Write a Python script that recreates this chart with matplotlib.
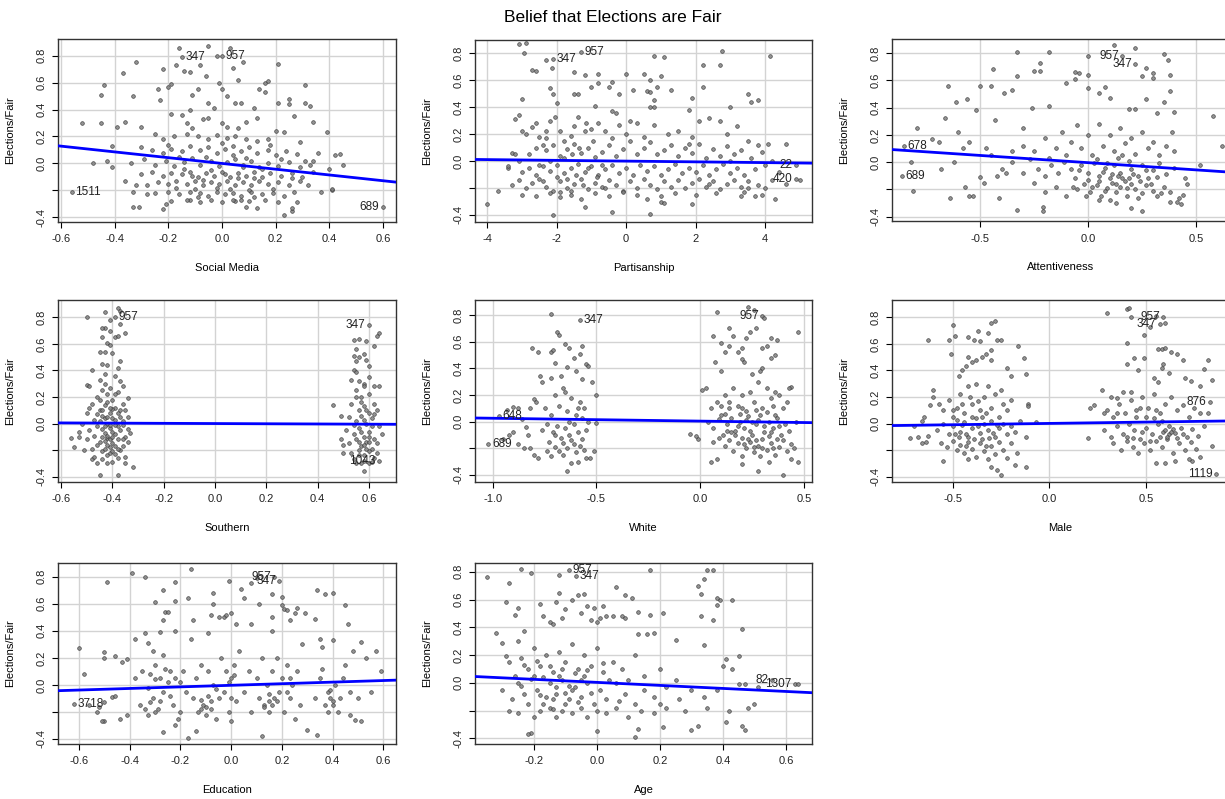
import numpy as np
import matplotlib.pyplot as plt

plt.rcParams['font.family'] = ['Liberation Sans', 'DejaVu Sans']

# added-variable points (x residual, y residual)
social_media = [
    (-0.52, 0.30), (-0.45, 0.51), (-0.44, 0.58), (-0.45, 0.30), (-0.37, 0.67), (-0.32, 0.75), (-0.33, 0.50),
    (-0.48, 0.00), (-0.43, 0.02), (-0.41, 0.13), (-0.41, -0.03), (-0.39, 0.27), (-0.36, 0.31), (-0.36, -0.13),
    (-0.33, -0.21), (-0.33, -0.32), (-0.31, -0.32), (-0.32, -0.16), (-0.30, 0.27), (-0.28, -0.23), (-0.22, -0.34),
    (-0.21, -0.30), (-0.22, 0.70), (-0.16, 0.86), (-0.17, 0.73), (-0.15, 0.79), (-0.14, 0.69), (-0.12, 0.68),
    (-0.05, 0.87), (-0.02, 0.80), (0.00, 0.80), (0.03, 0.86), (0.04, 0.71), (0.06, 0.62), (0.08, 0.75),
    (-0.08, 0.73), (-0.06, 0.65), (-0.19, 0.59), (-0.20, 0.57), (-0.24, 0.55), (-0.23, 0.47), (-0.01, 0.60),
    (0.00, 0.55), (0.02, 0.50), (0.05, 0.45), (0.07, 0.45), (-0.11, 0.51), (-0.12, 0.40), (-0.09, 0.55),
    (-0.05, 0.45), (-0.03, 0.41), (0.14, 0.55), (0.16, 0.53), (0.16, 0.60), (0.17, 0.61), (0.21, 0.74),
    (0.21, 0.45), (0.25, 0.44), (0.25, 0.48), (0.31, 0.58), (0.31, 0.45), (0.33, 0.43), (0.34, 0.31),
    (0.27, 0.35), (0.12, 0.41), (0.23, 0.23), (0.20, 0.24), (0.29, 0.16), (0.39, 0.23), (0.40, -0.04),
    (0.44, 0.07), (0.45, -0.01), (0.42, 0.06), (0.41, -0.20), (0.41, -0.19), (0.37, -0.21), (0.33, -0.01),
    (0.36, 0.08), (0.34, 0.02), (0.60, -0.32), (-0.56, -0.21), (0.23, -0.38), (0.26, -0.35), (0.26, -0.33),
    (0.28, -0.29), (0.13, -0.33), (0.09, -0.32), (0.05, -0.28),
    (-0.07, 0.33), (-0.05, 0.34), (0.00, 0.30), (-0.13, 0.30), (0.09, 0.31), (0.13, 0.34), (-0.19, 0.37),
    (-0.15, 0.36), (-0.25, 0.22), (-0.22, 0.18), (-0.18, 0.20), (-0.13, 0.22), (-0.09, 0.20), (-0.05, 0.18),
    (-0.02, 0.21), (0.02, 0.19), (0.05, 0.20), (0.09, 0.18), (0.13, 0.17), (0.17, 0.18), (0.06, 0.26),
    (-0.11, 0.26), (0.02, 0.27), (-0.30, 0.12), (-0.26, 0.10), (-0.22, 0.08), (-0.19, 0.11), (-0.15, 0.09),
    (-0.12, 0.13), (-0.08, 0.10), (-0.05, 0.12), (-0.02, 0.08), (0.01, 0.11), (0.04, 0.13), (0.07, 0.09),
    (0.10, 0.12), (0.13, 0.08), (0.17, 0.10), (0.20, 0.06), (0.24, 0.09), (0.28, 0.07), (-0.34, 0.00),
    (-0.29, 0.03), (-0.25, -0.01), (-0.21, 0.02), (-0.18, -0.02), (-0.14, 0.01), (-0.11, 0.04), (-0.08, -0.01),
    (-0.04, 0.02), (-0.01, -0.02), (0.02, 0.01), (0.05, 0.03), (0.08, -0.01), (0.11, 0.02), (0.14, -0.03),
    (0.17, 0.00), (0.21, -0.02), (0.25, 0.01), (0.29, -0.03), (0.31, 0.02), (-0.30, -0.08), (-0.26, -0.06),
    (-0.22, -0.09), (-0.19, -0.07), (-0.15, -0.08), (-0.12, -0.06), (-0.09, -0.10), (-0.06, -0.07), (-0.03, -0.09),
    (0.00, -0.06), (0.03, -0.10), (0.06, -0.07), (0.09, -0.09), (0.12, -0.06), (0.15, -0.10), (0.18, -0.07),
    (0.22, -0.09), (0.26, -0.07), (0.30, -0.10), (0.34, -0.06), (-0.28, -0.16), (-0.24, -0.14), (-0.20, -0.15),
    (-0.17, -0.13), (-0.13, -0.15), (-0.10, -0.13), (-0.07, -0.16), (-0.04, -0.14), (-0.01, -0.15), (0.02, -0.13),
    (0.05, -0.16), (0.08, -0.14), (0.11, -0.16), (0.14, -0.13), (0.17, -0.15), (0.21, -0.14), (0.25, -0.16),
    (0.29, -0.13), (0.32, -0.16), (-0.25, -0.22), (-0.20, -0.21), (-0.16, -0.23), (-0.12, -0.21), (-0.08, -0.22),
    (-0.05, -0.24), (-0.02, -0.21), (0.01, -0.23), (0.04, -0.22), (0.07, -0.24), (0.11, -0.21), (0.15, -0.23),
    (0.19, -0.22), (0.23, -0.24), (0.27, -0.21), (-0.19, -0.28), (-0.12, -0.27), (-0.08, -0.29), (-0.04, -0.27),
    (0.00, -0.29), (0.04, -0.27), (0.10, -0.28), (0.16, -0.27), (0.21, -0.29),
    (-0.14, -0.04), (-0.10, -0.19), (-0.07, -0.12), (-0.04, -0.05), (-0.02, -0.18), (0.01, -0.08), (0.03, -0.19),
    (0.06, -0.11), (0.08, -0.03), (0.10, -0.20), (0.12, -0.11), (0.15, -0.04), (-0.11, -0.09), (-0.06, 0.05),
    (0.04, 0.06), (0.09, 0.04), (-0.17, -0.18), (0.19, -0.19), (-0.09, -0.25), (0.07, -0.27), (-0.20, 0.14),
    (0.00, 0.15), (0.18, 0.14), (-0.13, -0.27), (0.12, -0.25), (-0.16, 0.05), (0.22, 0.03), (0.26, -0.11),
]

partisanship = [
    (-3.1, 0.87), (-2.9, 0.88), (-2.95, 0.80), (-2.7, 0.68), (-2.6, 0.67), (-2.3, 0.75), (-2.1, 0.76), (-2.15, 0.69),
    (-1.3, 0.81), (-2.2, 0.54), (-2.1, 0.50), (-2.0, 0.43), (-3.0, 0.46), (-1.5, 0.50), (-1.4, 0.50), (-1.5, 0.66),
    (-1.2, 0.64), (-0.8, 0.65), (-1.0, 0.55), (-0.8, 0.58), (-0.5, 0.55), (-0.4, 0.59), (-0.2, 0.50), (0.0, 0.65),
    (0.2, 0.53), (0.5, 0.65), (0.6, 0.52), (0.7, 0.51), (0.7, 0.60), (0.8, 0.78), (1.1, 0.77), (0.9, 0.55),
    (1.0, 0.63), (0.8, 0.45), (0.8, 0.40), (0.7, 0.40), (1.3, 0.53), (2.2, 0.71), (2.2, 0.55), (2.7, 0.71),
    (2.75, 0.82), (1.9, 0.47), (1.8, 0.38), (3.0, 0.40), (3.5, 0.50), (3.6, 0.44), (3.8, 0.45), (4.15, 0.78),
    (-0.9, 0.41), (-0.4, 0.37), (-0.3, 0.36), (-3.2, 0.31), (-3.1, 0.34), (4.6, 0.13), (4.9, -0.03), (4.9, -0.13),
    (5.0, -0.14), (4.3, -0.28), (4.0, -0.20), (-4.0, -0.32), (-3.7, -0.22), (-3.4, -0.05), (-2.1, -0.40),
    (-0.4, -0.38), (0.7, -0.39), (-1.2, -0.34), (1.0, -0.30), (1.1, -0.31), (1.9, -0.32), (3.3, -0.26), (3.7, -0.26),
    (-3.3, 0.06), (-3.2, 0.05), (-3.0, 0.22), (-2.9, 0.20), (-2.7, 0.25), (-2.6, 0.28), (-2.5, 0.18), (-2.4, 0.12),
    (-2.3, 0.17), (-2.2, 0.30), (-2.05, 0.33), (-1.9, 0.22), (-1.8, 0.15), (-1.6, 0.19), (-1.5, 0.26), (-1.4, 0.33),
    (-1.2, 0.22), (-1.0, 0.24), (-0.8, 0.28), (-0.6, 0.22), (-0.4, 0.17), (-0.2, 0.27), (0.1, 0.30), (0.3, 0.28),
    (0.5, 0.18), (0.8, 0.27), (1.2, 0.20), (1.5, 0.22), (1.9, 0.18), (2.1, 0.30), (2.4, 0.32), (2.7, 0.30),
    (2.9, 0.20), (3.2, 0.26), (3.5, 0.15), (3.8, 0.12), (4.1, 0.13),
    (-3.4, -0.04), (-3.1, 0.00), (-2.8, 0.05), (-2.6, 0.10), (-2.3, 0.08), (-2.1, 0.12), (-1.9, 0.04), (-1.7, 0.09),
    (-1.5, 0.13), (-1.3, 0.06), (-1.1, 0.10), (-0.9, 0.03), (-0.7, 0.07), (-0.5, 0.12), (-0.3, 0.04), (-0.1, 0.09),
    (0.1, 0.15), (0.3, 0.05), (0.5, 0.10), (0.7, 0.14), (0.9, 0.05), (1.1, 0.08), (1.3, 0.12), (1.5, 0.04),
    (1.7, 0.10), (1.9, 0.06), (2.1, 0.13), (2.3, 0.02), (2.5, 0.09), (2.7, 0.04), (2.9, 0.11), (3.1, 0.05),
    (3.3, 0.08), (3.6, 0.02), (3.9, 0.07), (4.2, 0.00),
    (-3.0, -0.08), (-2.8, -0.05), (-2.6, -0.10), (-2.4, -0.04), (-2.2, -0.07), (-2.0, -0.03), (-1.8, -0.09),
    (-1.6, -0.05), (-1.4, -0.02), (-1.2, -0.08), (-1.0, -0.04), (-0.8, -0.10), (-0.6, -0.06), (-0.4, -0.03),
    (-0.2, -0.09), (0.0, -0.05), (0.2, -0.10), (0.4, -0.03), (0.6, -0.07), (0.8, -0.04), (1.0, -0.10),
    (1.2, -0.06), (1.4, -0.02), (1.6, -0.09), (1.8, -0.05), (2.0, -0.08), (2.2, -0.03), (2.4, -0.10),
    (2.6, -0.06), (2.8, -0.02), (3.0, -0.09), (3.2, -0.05), (3.4, -0.10), (3.7, -0.06), (4.0, -0.03), (4.4, -0.08),
    (-3.3, -0.18), (-3.1, -0.14), (-2.9, -0.20), (-2.7, -0.16), (-2.5, -0.13), (-2.3, -0.19), (-2.1, -0.22),
    (-1.9, -0.15), (-1.7, -0.20), (-1.5, -0.17), (-1.3, -0.13), (-1.1, -0.21), (-0.9, -0.16), (-0.7, -0.19),
    (-0.5, -0.14), (-0.3, -0.18), (-0.1, -0.22), (0.1, -0.15), (0.3, -0.20), (0.5, -0.13), (0.7, -0.18),
    (0.9, -0.21), (1.1, -0.15), (1.3, -0.19), (1.5, -0.14), (1.7, -0.20), (1.9, -0.16), (2.1, -0.13),
    (2.3, -0.19), (2.5, -0.15), (2.7, -0.21), (2.9, -0.17), (3.1, -0.14), (3.3, -0.19), (3.5, -0.15),
    (3.8, -0.18), (4.2, -0.14), (4.6, -0.17),
    (-3.0, -0.25), (-2.6, -0.26), (-2.2, -0.24), (-1.9, -0.27), (-1.6, -0.25), (-1.3, -0.28), (-0.9, -0.24),
    (-0.5, -0.26), (-0.1, -0.23), (0.3, -0.25), (0.6, -0.28), (1.0, -0.26), (1.4, -0.24), (2.0, -0.25),
    (2.6, -0.24), (3.4, -0.23), (3.9, -0.25),
    (-2.4, -0.15), (-2.2, 0.00), (-2.0, -0.12), (-1.8, 0.02), (-1.7, -0.13), (-1.6, -0.22), (-1.45, -0.10),
    (-1.35, 0.10), (-1.25, -0.18), (-1.1, -0.05), (-0.95, 0.15), (-0.85, -0.12), (-0.7, -0.03), (-2.3, 0.22),
    (-1.9, -0.23), (-1.55, 0.05), (-1.15, 0.28), (-0.6, -0.20), (2.4, -0.17), (3.0, 0.00), (3.5, -0.20),
    (1.8, 0.13), (0.0, 0.20), (-2.5, -0.03),
]

attentiveness = [
    (-0.79, 0.25), (-0.72, 0.17), (-0.85, 0.12), (-0.82, 0.00), (-0.86, -0.10), (-0.81, -0.21), (-0.69, 0.15),
    (-0.68, -0.05), (-0.66, 0.32), (-0.65, 0.56), (-0.61, 0.44), (-0.56, 0.46), (-0.55, 0.15), (-0.64, -0.26),
    (-0.55, -0.25), (-0.53, -0.25), (-0.57, -0.18), (-0.52, 0.38), (-0.50, 0.56), (-0.45, 0.56), (-0.44, 0.68),
    (-0.43, 0.31), (-0.39, 0.51), (-0.35, 0.53), (-0.33, 0.63), (-0.33, 0.81), (-0.25, 0.67), (-0.22, 0.67),
    (-0.22, 0.73), (-0.18, 0.81), (-0.21, -0.33), (-0.21, -0.36), (-0.33, -0.35), (-0.41, -0.26), (-0.48, -0.15),
    (-0.50, -0.11), (-0.30, 0.25), (-0.26, 0.40), (-0.18, 0.41), (-0.10, 0.58), (-0.06, 0.61), (-0.06, 0.66),
    (-0.04, 0.65), (0.00, 0.78), (0.00, 0.64), (0.00, 0.54), (0.05, 0.51), (0.08, 0.55), (0.10, 0.47),
    (0.12, 0.86), (0.16, 0.78), (0.22, 0.84), (0.22, 0.72), (0.27, 0.69), (0.30, 0.65), (0.30, 0.62),
    (0.35, 0.79), (0.37, 0.75), (0.38, 0.64), (0.38, 0.52), (0.25, 0.63), (0.35, 0.44), (0.19, 0.39),
    (0.22, 0.39), (0.27, 0.46), (0.32, 0.36), (0.40, 0.37), (0.39, 0.22), (0.58, 0.34), (0.62, 0.12),
    (0.52, -0.02), (0.46, -0.16), (0.44, -0.24), (0.43, -0.31), (0.41, -0.29), (0.38, -0.29), (0.20, -0.34),
    (0.25, -0.36), (0.13, -0.30), (0.05, -0.28), (-0.01, -0.25),
    (-0.30, 0.12), (-0.25, 0.08), (-0.20, 0.18), (-0.18, 0.03), (-0.15, 0.10), (-0.12, 0.22), (-0.10, 0.05),
    (-0.08, 0.15), (-0.05, 0.27), (-0.03, 0.10), (0.00, 0.20), (0.02, 0.05), (0.05, 0.28), (0.07, 0.12),
    (0.10, 0.20), (0.12, 0.08), (0.15, 0.25), (0.17, 0.14), (0.20, 0.18), (0.22, 0.06), (0.25, 0.22),
    (0.28, 0.10), (0.30, 0.15), (0.33, 0.05), (0.36, 0.12), (0.40, 0.08),
    (-0.45, 0.05), (-0.40, -0.05), (-0.35, 0.00), (-0.30, -0.08), (-0.27, 0.02), (-0.23, -0.05), (-0.20, -0.10),
    (-0.17, -0.02), (-0.14, -0.08), (-0.11, 0.00), (-0.08, -0.05), (-0.06, -0.12), (-0.03, -0.02), (0.00, -0.08),
    (0.03, -0.01), (0.05, -0.10), (0.08, -0.04), (0.10, -0.12), (0.12, -0.02), (0.15, -0.08), (0.17, -0.14),
    (0.20, -0.05), (0.23, -0.10), (0.25, -0.02), (0.28, -0.12), (0.30, -0.06), (0.33, -0.01), (0.36, -0.09),
    (0.40, -0.04), (0.45, -0.12),
    (-0.25, -0.15), (-0.20, -0.22), (-0.15, -0.18), (-0.10, -0.25), (-0.05, -0.20), (-0.02, -0.16), (0.01, -0.22),
    (0.04, -0.17), (0.06, -0.25), (0.09, -0.19), (0.11, -0.15), (0.13, -0.22), (0.15, -0.18), (0.18, -0.25),
    (0.20, -0.16), (0.22, -0.20), (0.25, -0.23), (0.27, -0.17), (0.30, -0.21), (0.32, -0.25), (0.35, -0.18),
    (0.38, -0.22), (0.42, -0.26), (0.10, -0.28), (0.00, -0.13), (0.14, -0.10), (0.07, -0.07), (0.19, -0.12),
    (-0.47, 0.10), (-0.42, -0.10), (-0.38, -0.08), (-0.35, 0.08), (-0.62, 0.00), (-0.60, 0.22), (-0.58, 0.10),
    (0.02, -0.18), (0.05, -0.14), (0.08, -0.21), (0.11, -0.09), (0.13, -0.16), (0.16, -0.12), (0.18, -0.19),
    (0.21, -0.09), (0.24, -0.14), (0.27, -0.06), (0.29, -0.16), (0.32, -0.11), (0.04, 0.02), (0.09, -0.01),
    (0.14, 0.03), (0.19, 0.01), (-0.04, -0.06), (-0.07, -0.18), (0.23, -0.26), (0.34, -0.23), (0.16, 0.05),
]

southern = [
    (-0.50, 0.80), (-0.43, 0.84), (-0.41, 0.78), (-0.39, 0.80), (-0.38, 0.87), (-0.37, 0.85), (-0.37, 0.75),
    (-0.35, 0.68), (-0.43, 0.72), (-0.44, 0.72), (-0.41, 0.70), (-0.44, 0.65), (-0.39, 0.65), (-0.38, 0.66),
    (-0.42, 0.61), (-0.41, 0.59), (-0.45, 0.54), (-0.43, 0.54), (-0.40, 0.53), (-0.48, 0.40), (-0.44, 0.45),
    (-0.42, 0.44), (-0.38, 0.42), (-0.37, 0.47), (-0.50, 0.29), (-0.49, 0.28), (-0.45, 0.33), (-0.43, 0.37),
    (-0.39, 0.36), (-0.37, 0.32), (-0.36, 0.28), (-0.34, 0.19), (-0.56, -0.11), (-0.55, -0.18), (-0.53, -0.06),
    (-0.32, -0.33), (-0.45, -0.39), (-0.38, -0.39), (-0.35, -0.30), (-0.42, -0.30), (-0.48, -0.27),
    (-0.46, 0.20), (-0.44, 0.25), (-0.42, 0.22), (-0.40, 0.18), (-0.38, 0.24), (-0.36, 0.15), (-0.48, 0.15),
    (-0.45, 0.10), (-0.43, 0.14), (-0.41, 0.08), (-0.39, 0.12), (-0.37, 0.05), (-0.35, 0.10), (-0.50, 0.08),
    (-0.47, 0.03), (-0.44, 0.06), (-0.42, 0.00), (-0.40, 0.04), (-0.38, -0.02), (-0.36, 0.02), (-0.34, -0.04),
    (-0.52, 0.00), (-0.49, -0.05), (-0.46, -0.02), (-0.43, -0.07), (-0.41, -0.03), (-0.39, -0.08), (-0.37, -0.05),
    (-0.35, -0.10), (-0.33, -0.07), (-0.50, -0.12), (-0.47, -0.09), (-0.45, -0.14), (-0.42, -0.11), (-0.40, -0.15),
    (-0.38, -0.12), (-0.36, -0.17), (-0.34, -0.14), (-0.48, -0.19), (-0.46, -0.16), (-0.44, -0.21), (-0.41, -0.18),
    (-0.39, -0.23), (-0.37, -0.20), (-0.35, -0.25), (-0.47, -0.25), (-0.44, -0.27), (-0.42, -0.24), (-0.40, -0.29),
    (-0.38, -0.26), (-0.43, 0.30), (-0.41, 0.27), (-0.39, 0.22), (-0.45, 0.18), (-0.42, 0.16), (-0.40, 0.11),
    (-0.43, 0.04), (-0.41, -0.01), (-0.39, 0.03), (-0.44, -0.04), (-0.42, -0.09), (-0.40, -0.06), (-0.43, -0.13),
    (-0.41, -0.12), (-0.39, -0.17), (-0.43, -0.19), (-0.41, -0.22), (-0.38, 0.08), (-0.36, -0.01), (-0.34, 0.05),
    (-0.53, -0.10), (-0.51, -0.20), (-0.49, 0.12), (-0.46, -0.30),
    (-0.45, 0.02), (-0.44, -0.10), (-0.42, -0.16), (-0.41, 0.12), (-0.40, -0.10), (-0.39, -0.01), (-0.38, -0.19),
    (-0.37, 0.10), (-0.36, -0.12), (-0.44, 0.10), (-0.43, -0.02), (-0.42, 0.05), (-0.40, -0.21), (-0.46, 0.07),
    (0.60, 0.74), (0.64, 0.68), (0.63, 0.66), (0.59, 0.62), (0.62, 0.58), (0.54, 0.63), (0.56, 0.64),
    (0.55, 0.56), (0.54, 0.51), (0.56, 0.50), (0.58, 0.52), (0.59, 0.48), (0.55, 0.47), (0.60, 0.43),
    (0.54, 0.40), (0.55, 0.39), (0.53, 0.33), (0.58, 0.30), (0.62, 0.28), (0.64, 0.28), (0.46, 0.14),
    (0.49, 0.06), (0.49, -0.12), (0.50, -0.22), (0.50, -0.16), (0.64, -0.28), (0.58, -0.36), (0.55, -0.30),
    (0.60, -0.30), (0.58, -0.28),
    (0.55, 0.25), (0.57, 0.20), (0.60, 0.22), (0.62, 0.15), (0.53, 0.15), (0.56, 0.10), (0.58, 0.13),
    (0.60, 0.08), (0.63, 0.10), (0.52, 0.05), (0.55, 0.02), (0.57, 0.06), (0.59, 0.00), (0.61, 0.04),
    (0.64, -0.02), (0.51, -0.05), (0.54, -0.08), (0.56, -0.03), (0.58, -0.10), (0.60, -0.06), (0.62, -0.12),
    (0.65, -0.08), (0.52, -0.15), (0.55, -0.12), (0.57, -0.17), (0.59, -0.14), (0.61, -0.19), (0.63, -0.15),
    (0.53, -0.22), (0.56, -0.20), (0.58, -0.24), (0.60, -0.21), (0.62, -0.26), (0.54, -0.27), (0.57, -0.30),
    (0.61, -0.29), (0.56, 0.32), (0.58, 0.28), (0.60, 0.35), (0.55, 0.20), (0.57, -0.06), (0.59, -0.19),
    (0.56, -0.14), (0.58, 0.03), (0.60, -0.10), (0.62, 0.07), (0.54, -0.01), (0.57, 0.16), (0.59, 0.10),
    (0.63, -0.22), (0.58, -0.16), (0.60, -0.14), (0.56, -0.24), (0.61, -0.02),
]

white = [
    (-0.72, 0.81), (-0.69, 0.67), (-0.68, 0.65), (-0.58, 0.76), (-0.65, 0.58), (-0.63, 0.55), (-0.81, 0.55),
    (-0.78, 0.52), (-0.72, 0.52), (-0.71, 0.54), (-0.57, 0.57), (-0.58, 0.51), (-0.61, 0.48), (-0.55, 0.43),
    (-0.54, 0.42), (-0.70, 0.44), (-0.64, 0.41), (-0.60, 0.38), (-0.67, 0.34), (-0.72, 0.33), (-0.77, 0.34),
    (-0.76, 0.30), (-0.52, 0.30), (-0.50, 0.20), (-0.57, 0.32), (-0.80, 0.17), (-0.79, 0.15), (-0.82, 0.10),
    (-0.97, 0.04), (-0.93, 0.09), (-0.90, 0.11), (-0.88, 0.10), (-0.86, 0.02), (-0.84, -0.04), (-0.83, -0.10),
    (-0.90, -0.08), (-0.92, -0.10), (-0.95, -0.13), (-1.02, -0.17), (-0.88, -0.17), (-0.85, -0.20), (-0.82, -0.20),
    (-0.80, -0.25), (-0.78, -0.27), (-0.74, -0.22), (-0.72, -0.26), (-0.64, -0.37), (-0.62, -0.31), (-0.59, -0.30),
    (-0.55, -0.27), (-0.53, -0.27), (-0.51, -0.22), (-0.50, -0.01),
    (-0.75, 0.10), (-0.72, 0.05), (-0.70, 0.20), (-0.68, 0.12), (-0.66, 0.25), (-0.64, 0.08), (-0.62, 0.18),
    (-0.60, 0.05), (-0.58, 0.15), (-0.56, 0.10), (-0.54, 0.00), (-0.74, -0.02), (-0.71, -0.08), (-0.69, -0.03),
    (-0.67, -0.12), (-0.65, -0.05), (-0.63, -0.10), (-0.61, -0.02), (-0.59, -0.08), (-0.57, -0.13), (-0.55, -0.06),
    (-0.73, -0.15), (-0.70, -0.19), (-0.68, -0.22), (-0.66, -0.16), (-0.64, -0.20), (-0.62, -0.14), (-0.60, -0.23),
    (-0.58, -0.18), (-0.56, -0.21), (-0.76, -0.06), (-0.65, 0.22), (-0.63, 0.00), (-0.61, -0.17), (-0.59, 0.10),
    (-0.70, -0.10), (-0.66, -0.25), (-0.57, 0.03),
    (0.08, 0.82), (0.06, 0.64), (0.10, 0.59), (0.14, 0.70), (0.16, 0.64), (0.14, 0.57), (0.20, 0.55),
    (0.18, 0.52), (0.12, 0.52), (0.23, 0.86), (0.26, 0.84), (0.30, 0.79), (0.31, 0.78), (0.27, 0.70),
    (0.24, 0.67), (0.22, 0.63), (0.34, 0.63), (0.37, 0.61), (0.32, 0.57), (0.30, 0.55), (0.36, 0.50),
    (0.34, 0.48), (0.47, 0.67), (0.20, 0.47), (0.21, 0.45), (0.07, 0.45), (0.10, 0.38), (0.30, 0.40),
    (0.29, 0.38), (0.25, 0.36), (0.03, 0.25), (0.01, 0.24), (-0.05, -0.09), (-0.01, -0.13), (-0.02, -0.11),
    (0.05, -0.30), (0.08, -0.28), (0.20, -0.32), (0.28, -0.37), (0.33, -0.30), (0.40, -0.40), (0.44, -0.28),
    (0.47, -0.30), (0.45, -0.20), (0.44, 0.26), (0.43, 0.25),
    (0.05, 0.10), (0.08, 0.15), (0.10, 0.05), (0.12, 0.20), (0.14, 0.10), (0.16, 0.25), (0.18, 0.12),
    (0.20, 0.20), (0.22, 0.08), (0.24, 0.22), (0.26, 0.15), (0.28, 0.30), (0.30, 0.10), (0.32, 0.25),
    (0.34, 0.18), (0.36, 0.05), (0.38, 0.20), (0.40, 0.10), (0.42, 0.15),
    (0.04, 0.00), (0.06, -0.05), (0.09, 0.02), (0.11, -0.10), (0.13, -0.02), (0.15, 0.03), (0.17, -0.07),
    (0.19, 0.00), (0.21, -0.05), (0.23, 0.04), (0.25, -0.10), (0.27, -0.02), (0.29, 0.05), (0.31, -0.08),
    (0.33, 0.00), (0.35, -0.05), (0.37, 0.03), (0.39, -0.10), (0.41, -0.02), (0.43, -0.07), (0.46, 0.00),
    (0.06, -0.15), (0.09, -0.12), (0.12, -0.18), (0.14, -0.14), (0.16, -0.22), (0.18, -0.16), (0.20, -0.12),
    (0.22, -0.20), (0.24, -0.15), (0.26, -0.23), (0.28, -0.18), (0.30, -0.13), (0.32, -0.21), (0.34, -0.16),
    (0.36, -0.25), (0.38, -0.19), (0.40, -0.14), (0.42, -0.22), (0.44, -0.17),
    (0.10, 0.12), (0.15, -0.08), (0.20, 0.10), (0.25, 0.00), (0.30, -0.20), (0.35, 0.12), (0.12, 0.06),
    (0.18, -0.03), (0.23, -0.13), (0.27, 0.09), (0.33, -0.11), (0.38, -0.03), (0.20, -0.26), (0.29, -0.26),
    (0.14, 0.15), (0.36, 0.22),
    (0.17, -0.10), (0.21, -0.17), (0.24, -0.07), (0.27, -0.14), (0.31, -0.03), (0.34, -0.08), (0.37, -0.13),
    (0.22, 0.01), (0.28, 0.01), (0.32, 0.07), (0.19, 0.06), (0.26, -0.19), (0.35, -0.20), (0.13, -0.07),
]

male = [
    (-0.63, 0.63), (-0.50, 0.74), (-0.52, 0.63), (-0.49, 0.66), (-0.51, 0.52), (-0.47, 0.36), (-0.45, 0.40),
    (-0.43, 0.43), (-0.42, 0.65), (-0.39, 0.63), (-0.36, 0.62), (-0.37, 0.70), (-0.32, 0.68), (-0.30, 0.76),
    (-0.28, 0.77), (-0.27, 0.63), (-0.25, 0.63), (-0.30, 0.55), (-0.33, 0.52), (-0.35, 0.50), (-0.38, 0.48),
    (-0.40, 0.46), (-0.42, 0.50), (-0.30, 0.48), (-0.22, 0.42), (-0.20, 0.36), (-0.16, 0.58), (-0.13, 0.49),
    (-0.12, 0.37), (-0.11, 0.15), (-0.11, 0.13), (-0.12, -0.10), (-0.07, 0.01), (-0.12, -0.33), (-0.18, -0.31),
    (-0.25, -0.39), (-0.27, -0.35), (-0.30, -0.33), (-0.42, -0.27), (-0.55, -0.28), (-0.72, -0.11), (-0.68, -0.10),
    (-0.66, -0.15), (-0.63, -0.09), (-0.66, 0.02), (-0.65, 0.05), (-0.60, 0.25), (-0.60, 0.20), (-0.62, 0.14),
    (-0.57, 0.15), (-0.70, -0.02), (-0.64, -0.14),
    (-0.55, 0.10), (-0.52, 0.18), (-0.50, 0.05), (-0.48, 0.12), (-0.46, 0.22), (-0.44, 0.08), (-0.42, 0.28),
    (-0.40, 0.15), (-0.38, 0.30), (-0.36, 0.10), (-0.34, 0.20), (-0.32, 0.28), (-0.30, 0.12), (-0.28, 0.22),
    (-0.26, 0.05), (-0.24, 0.15), (-0.22, 0.10), (-0.20, 0.18),
    (-0.58, -0.05), (-0.55, 0.00), (-0.52, -0.08), (-0.50, -0.02), (-0.48, 0.03), (-0.46, -0.06), (-0.44, 0.01),
    (-0.42, -0.10), (-0.40, -0.03), (-0.38, 0.04), (-0.36, -0.07), (-0.34, 0.00), (-0.32, -0.05), (-0.30, 0.02),
    (-0.28, -0.10), (-0.26, -0.03), (-0.24, 0.00), (-0.22, -0.08), (-0.20, -0.02), (-0.18, -0.06), (-0.15, 0.02),
    (-0.56, -0.15), (-0.53, -0.18), (-0.50, -0.13), (-0.48, -0.20), (-0.46, -0.16), (-0.44, -0.22), (-0.42, -0.14),
    (-0.40, -0.19), (-0.38, -0.25), (-0.36, -0.15), (-0.34, -0.21), (-0.32, -0.27), (-0.30, -0.17), (-0.28, -0.23),
    (-0.26, -0.14), (-0.24, -0.20), (-0.22, -0.26), (-0.20, -0.15), (-0.17, -0.22),
    (-0.45, 0.15), (-0.35, -0.12), (-0.25, 0.25), (-0.40, 0.05), (-0.33, 0.08), (-0.47, -0.10), (-0.37, -0.02),
    (-0.29, -0.07), (-0.41, 0.20), (-0.50, 0.10),
    (-0.45, -0.01), (-0.43, -0.08), (-0.39, -0.12), (-0.35, 0.05), (-0.31, -0.11), (-0.27, -0.01), (-0.37, 0.17),
    (-0.43, -0.17), (-0.33, -0.17), (-0.49, -0.08),
    (0.30, 0.83), (0.40, 0.86), (0.41, 0.87), (0.42, 0.80), (0.59, 0.80), (0.55, 0.81), (0.57, 0.75),
    (0.52, 0.73), (0.60, 0.76), (0.49, 0.67), (0.40, 0.61), (0.40, 0.45), (0.44, 0.49), (0.49, 0.49),
    (0.56, 0.56), (0.58, 0.56), (0.60, 0.57), (0.63, 0.54), (0.66, 0.52), (0.69, 0.48), (0.59, 0.45),
    (0.58, 0.42), (0.62, 0.38), (0.82, 0.48), (0.80, 0.41), (0.84, 0.33), (0.70, 0.34), (0.73, 0.32),
    (0.78, 0.28), (0.83, 0.16), (0.82, 0.08), (0.84, -0.17), (0.86, -0.38), (0.78, -0.25), (0.74, -0.28),
    (0.72, -0.27), (0.65, -0.28), (0.60, -0.30), (0.55, -0.30), (0.20, -0.11), (0.23, 0.14), (0.21, 0.12),
    (0.28, 0.08), (0.27, 0.25), (0.32, 0.20), (0.35, 0.19), (0.38, 0.24), (0.46, 0.40), (0.54, 0.34),
    (0.56, 0.31), (0.42, 0.24),
    (0.30, 0.10), (0.33, 0.05), (0.36, 0.15), (0.39, 0.08), (0.42, 0.18), (0.45, 0.10), (0.48, 0.20),
    (0.51, 0.12), (0.54, 0.22), (0.57, 0.08), (0.60, 0.15), (0.63, 0.20), (0.66, 0.10), (0.69, 0.14),
    (0.72, 0.05), (0.75, 0.12), (0.78, 0.08),
    (0.28, -0.05), (0.32, -0.10), (0.35, -0.02), (0.38, -0.08), (0.41, 0.00), (0.44, -0.05), (0.47, -0.12),
    (0.50, -0.03), (0.53, -0.08), (0.56, 0.00), (0.59, -0.06), (0.62, -0.02), (0.65, -0.07), (0.68, -0.03),
    (0.71, -0.10), (0.74, -0.04), (0.77, -0.09), (0.80, -0.02),
    (0.33, -0.15), (0.37, -0.20), (0.40, -0.13), (0.43, -0.18), (0.46, -0.22), (0.49, -0.15), (0.52, -0.20),
    (0.55, -0.13), (0.58, -0.18), (0.61, -0.12), (0.64, -0.22), (0.67, -0.15), (0.70, -0.20), (0.73, -0.14),
    (0.76, -0.19), (0.60, -0.05), (0.62, -0.08), (0.64, -0.04), (0.58, 0.02), (0.45, 0.05), (0.50, 0.05),
    (0.40, -0.10), (0.55, 0.10), (0.35, 0.08),
    (0.61, -0.10), (0.63, -0.06), (0.66, -0.11), (0.57, -0.10), (0.52, -0.13), (0.48, -0.06), (0.43, -0.11),
    (0.69, -0.08), (0.54, 0.04), (0.47, 0.12),
]

education = [
    (-0.60, 0.27), (-0.58, 0.08), (-0.49, 0.76), (-0.50, 0.24), (-0.50, 0.20), (-0.46, 0.21), (-0.43, 0.17),
    (-0.41, 0.19), (-0.39, 0.83), (-0.38, 0.34), (-0.34, 0.80), (-0.34, 0.38), (-0.33, 0.31), (-0.30, 0.61),
    (-0.27, 0.70), (-0.26, 0.54), (-0.25, 0.54), (-0.27, 0.48), (-0.22, 0.76), (-0.22, 0.62), (-0.22, 0.40),
    (-0.28, 0.39), (-0.17, 0.64), (-0.16, 0.86), (-0.15, 0.48), (-0.16, 0.34), (-0.09, 0.38), (-0.08, 0.52),
    (-0.07, 0.60), (-0.07, 0.68), (-0.05, 0.50), (-0.03, 0.50), (-0.02, 0.52), (-0.01, 0.77), (0.00, 0.53),
    (0.02, 0.45), (0.04, 0.71), (0.05, 0.64), (0.08, 0.75), (0.10, 0.79), (0.11, 0.60), (0.08, 0.45),
    (0.17, 0.80), (0.19, 0.77), (0.16, 0.67), (0.20, 0.59), (0.21, 0.56), (0.20, 0.65), (0.22, 0.55),
    (0.23, 0.48), (0.25, 0.53), (0.26, 0.57), (0.29, 0.53), (0.16, 0.50), (0.16, 0.40), (0.34, 0.70),
    (0.37, 0.67), (0.40, 0.68), (0.33, 0.49), (0.35, 0.34), (0.36, 0.28), (0.40, 0.33), (0.45, 0.59),
    (0.46, 0.45), (0.48, 0.25), (0.51, 0.32), (0.53, 0.20), (0.57, 0.25), (0.59, 0.10), (0.55, -0.05),
    (0.51, -0.27), (0.49, -0.26), (0.47, -0.22), (0.30, -0.33), (0.34, -0.37), (0.12, -0.38), (-0.17, -0.39),
    (-0.14, -0.34), (-0.27, -0.35), (-0.50, -0.27), (-0.51, -0.27), (-0.44, -0.25), (-0.41, -0.22), (-0.62, -0.14),
    (-0.56, -0.15), (-0.52, -0.16), (-0.53, -0.20), (-0.50, -0.13), (-0.47, -0.09), (-0.46, -0.08),
    (-0.38, 0.05), (-0.35, 0.10), (-0.33, -0.02), (-0.32, 0.08), (-0.31, -0.10), (-0.30, 0.15), (-0.29, -0.18),
    (-0.28, 0.05), (-0.27, -0.05), (-0.26, 0.12), (-0.34, -0.18), (-0.33, -0.22), (-0.30, -0.20), (-0.36, -0.15),
    (-0.27, 0.22), (-0.31, 0.25), (-0.24, -0.08), (-0.23, -0.15), (-0.22, 0.05), (-0.21, -0.25), (-0.20, -0.20),
    (-0.22, -0.30), (-0.19, 0.10), (-0.18, -0.05), (-0.24, 0.10), (-0.20, 0.02), (-0.15, -0.10), (-0.14, 0.05),
    (-0.13, -0.20), (-0.12, 0.15), (-0.11, -0.15), (-0.10, -0.22), (-0.09, 0.10), (-0.08, -0.12), (-0.07, 0.00),
    (-0.06, -0.25), (-0.05, -0.10), (-0.04, 0.20), (-0.03, -0.05), (-0.02, 0.10), (-0.01, -0.20), (0.00, 0.05),
    (0.00, -0.27), (0.01, 0.15), (0.02, -0.12), (0.03, 0.25), (-0.08, -0.18), (-0.12, -0.18),
    (0.05, -0.05), (0.07, 0.10), (0.08, -0.20), (0.10, 0.05), (0.11, -0.10), (0.12, 0.20), (0.13, -0.15),
    (0.14, 0.00), (0.15, -0.20), (0.16, 0.10), (0.17, -0.10), (0.18, 0.20), (0.19, -0.05), (0.20, 0.05),
    (0.21, -0.20), (0.22, 0.15), (0.23, -0.10), (0.24, 0.00), (0.25, -0.25), (0.26, 0.10), (0.27, -0.15),
    (0.28, 0.30), (0.15, -0.12), (0.13, -0.16),
    (0.33, -0.10), (0.35, 0.05), (0.37, -0.15), (0.38, -0.05), (0.39, -0.10), (0.40, -0.15), (0.41, 0.00),
    (0.42, -0.20), (0.44, 0.05), (0.43, -0.10), (0.38, -0.20), (0.36, 0.12), (0.47, -0.05), (0.50, -0.10),
    (0.45, 0.15),
    (-0.32, -0.13), (-0.30, 0.04), (-0.28, -0.12), (-0.12, -0.11), (-0.10, -0.16), (-0.09, -0.08), (-0.01, 0.02),
    (0.00, -0.10), (0.01, 0.07), (0.15, -0.07), (0.16, -0.15), (0.18, -0.12), (0.22, -0.05), (0.23, 0.05),
    (0.39, -0.04), (0.40, -0.12), (-0.25, 0.02), (-0.06, -0.03),
]

age = [
    (-0.35, 0.76), (-0.32, 0.36), (-0.30, 0.29), (-0.29, 0.19), (-0.28, 0.72), (-0.29, 0.58), (-0.26, 0.49),
    (-0.25, 0.54), (-0.24, 0.82), (-0.23, 0.37), (-0.21, 0.79), (-0.25, 0.30), (-0.18, 0.57), (-0.17, 0.48),
    (-0.15, 0.44), (-0.14, 0.42), (-0.13, 0.58), (-0.12, 0.78), (-0.12, 0.65), (-0.10, 0.53), (-0.11, 0.47),
    (-0.09, 0.81), (-0.065, 0.77), (-0.08, 0.60), (-0.06, 0.63), (-0.04, 0.64), (-0.05, 0.50), (-0.03, 0.55),
    (-0.02, 0.45), (-0.01, 0.54), (0.00, 0.44), (0.01, 0.47), (0.02, 0.55), (0.03, 0.48), (0.05, 0.48),
    (0.06, 0.69), (0.08, 0.48), (0.09, 0.63), (0.09, 0.47), (0.11, 0.61), (0.13, 0.51), (0.17, 0.81),
    (0.17, 0.49), (0.18, 0.36), (0.21, 0.50), (0.13, 0.35), (0.16, 0.35), (0.25, 0.31), (0.32, 0.70),
    (0.33, 0.64), (0.34, 0.75), (0.35, 0.81), (0.37, 0.81), (0.33, 0.48), (0.34, 0.27), (0.37, 0.45),
    (0.38, 0.56), (0.39, 0.60), (0.38, 0.61), (0.43, 0.60), (0.46, 0.39), (0.45, 0.19), (0.41, 0.17),
    (0.43, 0.10), (0.40, 0.12), (0.45, -0.01), (0.47, -0.01), (0.51, -0.03), (0.50, -0.15), (0.48, -0.18),
    (0.46, -0.31), (0.47, -0.34), (0.41, -0.28), (0.30, -0.34), (0.32, -0.31), (0.21, -0.32), (0.12, -0.39),
    (0.13, -0.33), (0.00, -0.35), (-0.21, -0.36), (-0.22, -0.37), (0.555, 0.02), (0.63, -0.01), (0.64, -0.01),
    (-0.28, 0.15), (-0.26, 0.05), (-0.24, 0.18), (-0.22, 0.10), (-0.20, 0.25), (-0.18, 0.12), (-0.16, 0.20),
    (-0.14, 0.08), (-0.12, 0.22), (-0.10, 0.15), (-0.08, 0.28), (-0.06, 0.10), (-0.04, 0.20), (-0.02, 0.12),
    (0.00, 0.25), (0.02, 0.08), (0.05, 0.15), (0.08, 0.10), (0.12, 0.20), (0.15, 0.05), (0.20, 0.10),
    (0.25, 0.02),
    (-0.30, -0.05), (-0.27, -0.12), (-0.25, 0.00), (-0.23, -0.08), (-0.21, 0.03), (-0.19, -0.05), (-0.17, -0.15),
    (-0.15, 0.00), (-0.13, -0.08), (-0.11, 0.02), (-0.09, -0.12), (-0.07, -0.03), (-0.05, -0.10), (-0.03, 0.00),
    (-0.01, -0.15), (0.01, -0.05), (0.03, -0.12), (0.06, 0.00), (0.09, -0.08), (0.12, -0.15), (0.15, -0.05),
    (0.18, -0.10), (0.22, -0.03), (0.26, -0.12), (0.30, -0.05), (0.34, -0.10), (0.38, -0.05),
    (-0.28, -0.20), (-0.25, -0.22), (-0.22, -0.15), (-0.20, -0.25), (-0.18, -0.20), (-0.15, -0.18), (-0.13, -0.25),
    (-0.11, -0.20), (-0.08, -0.22), (-0.05, -0.18), (-0.03, -0.25), (0.00, -0.20), (0.03, -0.22), (0.06, -0.18),
    (0.10, -0.25), (0.14, -0.20), (0.18, -0.22), (0.22, -0.18), (0.28, -0.20), (0.35, -0.18), (0.42, -0.20),
    (-0.20, 0.05), (-0.16, -0.10), (-0.12, 0.05), (-0.08, -0.05), (-0.04, 0.05), (0.04, 0.02), (-0.14, -0.12),
    (-0.10, -0.15), (0.10, 0.02), (0.20, -0.15),
    (-0.23, 0.13), (-0.19, 0.16), (-0.17, 0.04), (-0.15, 0.12), (-0.13, -0.03), (-0.11, 0.10), (-0.09, -0.02),
    (-0.07, 0.07), (-0.05, 0.02), (-0.03, 0.09), (-0.18, -0.09), (-0.14, -0.19), (-0.10, -0.07), (-0.06, -0.14),
    (-0.02, -0.07), (0.02, 0.14), (0.07, -0.13), (-0.24, -0.02),
]

# labelled observations: (id, x, y, side of the text)
sm_labels = [("347", -0.15, 0.79, "r"), ("957", 0.00, 0.80, "r"), ("1511", -0.56, -0.21, "r"), ("689", 0.60, -0.32, "l")]
pt_labels = [("347", -2.1, 0.76, "r"), ("957", -1.3, 0.81, "r"), ("22", 4.9, -0.03, "l"), ("420", 4.9, -0.13, "l")]
at_labels = [("957", 0.16, 0.78, "l"), ("347", 0.22, 0.72, "l"), ("678", -0.85, 0.12, "r"), ("689", -0.86, -0.10, "r")]
so_labels = [("957", -0.39, 0.80, "r"), ("347", 0.60, 0.74, "l"), ("1043", 0.64, -0.28, "l")]
wh_labels = [("347", -0.58, 0.76, "r"), ("957", 0.30, 0.79, "l"), ("648", -0.97, 0.04, "r"), ("689", -1.02, -0.17, "r")]
ma_labels = [("957", 0.59, 0.80, "l"), ("347", 0.57, 0.75, "l"), ("876", 0.83, 0.16, "l"), ("1119", 0.86, -0.38, "l")]
ed_labels = [("957", 0.17, 0.80, "l"), ("347", 0.19, 0.77, "l"), ("3718", -0.62, -0.14, "r")]
ag_labels = [("957", -0.09, 0.81, "r"), ("347", -0.065, 0.77, "r"), ("82", 0.555, 0.02, "l"), ("1307", 0.63, -0.01, "l")]

# fitted slope and intercept of each added-variable line
fits = {
    "Social Media": (-0.214, 0.000),
    "Partisanship": (-0.0028, 0.000),
    "Attentiveness": (-0.106, -0.004),
    "Southern": (-0.008, 0.000),
    "White": (-0.0215, 0.004),
    "Male": (0.020, 0.001),
    "Education": (0.0585, -0.003),
    "Age": (-0.109, 0.003),
}

xtick_labels = {
    "Social Media": ["-0.6", "-0.4", "-0.2", "0.0", "0.2", "0.4", "0.6"],
    "Partisanship": ["-4", "-2", "0", "2", "4"],
    "Attentiveness": ["-0.5", "0.0", "0.5"],
    "Southern": ["-0.6", "-0.4", "-0.2", "0.0", "0.2", "0.4", "0.6"],
    "White": ["-1.0", "-0.5", "0.0", "0.5"],
    "Male": ["-0.5", "0.0", "0.5"],
    "Education": ["-0.6", "-0.4", "-0.2", "0.0", "0.2", "0.4", "0.6"],
    "Age": ["-0.2", "0.0", "0.2", "0.4", "0.6"],
}
ytick_labels = ["-0.4", "", "0.0", "0.2", "0.4", "0.6", "0.8"]

panels = [
    ("Social Media", social_media, sm_labels),
    ("Partisanship", partisanship, pt_labels),
    ("Attentiveness", attentiveness, at_labels),
    ("Southern", southern, so_labels),
    ("White", white, wh_labels),
    ("Male", male, ma_labels),
    ("Education", education, ed_labels),
    ("Age", age, ag_labels),
]

# layout in pixels: left, right, top, bottom, and axis limits
W, H = 1225, 799
boxes = [
    (58, 396, 39, 222, (-0.611, 0.649), (-0.435, 0.924)),
    (475, 812, 40, 222, (-4.355, 5.354), (-0.452, 0.899)),
    (892, 1229, 39, 221, (-0.907, 0.653), (-0.432, 0.903)),
    (58, 396, 300, 482, (-0.612, 0.705), (-0.440, 0.930)),
    (475, 812, 300, 482, (-1.085, 0.539), (-0.453, 0.913)),
    (892, 1229, 300, 482, (-0.814, 0.929), (-0.440, 0.930)),
    (58, 396, 563, 744, (-0.683, 0.650), (-0.437, 0.901)),
    (475, 812, 563, 744, (-0.387, 0.683), (-0.441, 0.863)),
]

fig = plt.figure(figsize=(W / 100, H / 100), dpi=100)
fig.text(0.5, 1 - 17 / H, "Belief that Elections are Fair", ha="center", va="center", fontsize=12.5)

for (name, pts, labels), (l, r, t, b, xl, yl) in zip(panels, boxes):
    ax = fig.add_axes([l / W, 1 - b / H, (r - l) / W, (b - t) / H])
    pts = np.array(pts)
    xt = [float(s) for s in xtick_labels[name]]
    yt = [-0.4, -0.2, 0.0, 0.2, 0.4, 0.6, 0.8]
    ax.set_xlim(xl)
    ax.set_ylim(yl)
    ax.set_xticks(xt)
    ax.set_xticklabels(xtick_labels[name])
    ax.set_yticks(yt)
    ax.set_yticklabels(ytick_labels, rotation=90, va="center")
    ax.grid(True, color="#d3d3d3", lw=1)
    ax.set_axisbelow(True)
    ax.tick_params(labelsize=8, length=4, pad=5, color="black", labelcolor="#222222")
    ax.tick_params(axis="y", pad=4)
    for sp in ax.spines.values():
        sp.set_color("#333333")
        sp.set_linewidth(1)

    ax.scatter(pts[:, 0], pts[:, 1], s=7, marker="o", facecolors="#808080",
               edgecolors="#333333", linewidths=0.5, alpha=0.85, zorder=2)

    slope, icpt = fits[name]
    xs = np.array(xl)
    ax.plot(xs, icpt + slope * xs, color="#0000ff", lw=2, zorder=3)

    for txt, px, py, side in labels:
        off = 2.5 if side == "r" else -2.5
        ax.annotate(txt, (px, py), xytext=(off, 0), textcoords="offset points",
                    ha="left" if side == "r" else "right", va="center", fontsize=8.5,
                    color="#222222", zorder=4)

    ax.set_xlabel(name, fontsize=8)
    ax.set_ylabel("Elections/Fair", fontsize=8)
    ax.xaxis.set_label_coords(0.5, -0.225)
    ax.yaxis.set_label_coords(-0.127, 0.5)

fig.savefig("out.png", dpi=100)
